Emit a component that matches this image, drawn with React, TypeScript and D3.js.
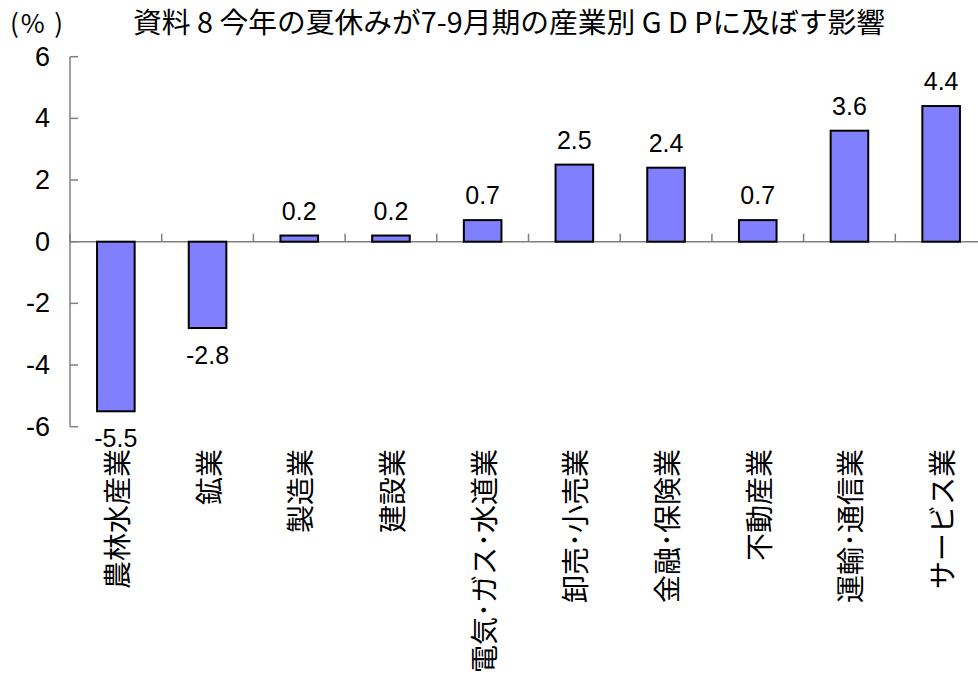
import React from 'react';
import { scaleBand, scaleLinear } from 'd3';

const svgWidth = 978;
const svgHeight = 674;

const categories = [
  '農林水産業',
  '鉱業',
  '製造業',
  '建設業',
  '電気･ガス･水道業',
  '卸売･小売業',
  '金融･保険業',
  '不動産業',
  '運輸･通信業',
  'サービス業',
];
const values = [-5.5, -2.8, 0.2, 0.2, 0.7, 2.5, 2.4, 0.7, 3.6, 4.4];
const yTicks = [-6, -4, -2, 0, 2, 4, 6];

const titleText = '資料 8  今年の夏休みが7-9月期の産業別 G D Pに及ぼす影響';
const unitText = '(% )';

const plotLeft = 70;
const plotRight = 987;
const plotTop = 56.7;
const plotBottom = 426.7;

const numFont = '"Liberation Sans", Arial, sans-serif';
const cjkFont = '"Noto Sans CJK JP", sans-serif';
const axisColor = '#808080';

export default function App() {
  const x = scaleBand().domain(categories).range([plotLeft, plotRight]).padding(0);
  const y = scaleLinear().domain([-6, 6]).range([plotBottom, plotTop]);
  const barWidth = x.bandwidth() * 0.41;
  const zeroY = y(0);

  return (
    <svg
      width={svgWidth}
      height={svgHeight}
      style={{ position: 'absolute', left: 0, top: 0, background: '#fff' }}
    >
      {/* title + unit */}
      <text x={10} y={33} fontFamily={cjkFont} fontSize={26} fill="#000" textLength={53} lengthAdjust="spacing">
        {unitText}
      </text>
      <text
        x={133}
        y={33}
        fontFamily={cjkFont}
        fontSize={28}
        fill="#000"
        textLength={752}
        lengthAdjust="spacingAndGlyphs"
      >
        {titleText}
      </text>

      {/* y axis */}
      <line x1={plotLeft} x2={plotLeft} y1={plotTop} y2={plotBottom} stroke={axisColor} strokeWidth={1.5} />
      {yTicks.map((t) => (
        <g key={t}>
          <line x1={plotLeft} x2={plotLeft + 8} y1={y(t)} y2={y(t)} stroke={axisColor} strokeWidth={1.5} />
          <text
            x={50}
            y={y(t)}
            textAnchor="end"
            dominantBaseline="central"
            fontFamily={numFont}
            fontSize={27}
            fill="#000"
          >
            {t}
          </text>
        </g>
      ))}

      {/* zero line with category ticks */}
      <line x1={plotLeft} x2={svgWidth} y1={zeroY} y2={zeroY} stroke={axisColor} strokeWidth={1.5} />
      {categories.map((c) => (
        <line
          key={'tick' + c}
          x1={x(c)}
          x2={x(c)}
          y1={zeroY}
          y2={zeroY - 8}
          stroke={axisColor}
          strokeWidth={1.5}
        />
      ))}

      {/* bars */}
      {categories.map((c, i) => {
        const v = values[i];
        const cx = x(c) + x.bandwidth() / 2;
        const top = Math.min(y(v), zeroY);
        const h = Math.abs(y(v) - zeroY);
        return (
          <g key={c}>
            <rect
              x={cx - barWidth / 2}
              y={top}
              width={barWidth}
              height={h}
              fill="#8080FF"
              stroke="#000"
              strokeWidth={2}
            />
            <text
              x={cx}
              y={v >= 0 ? y(v) - 16 : y(v) + 36}
              textAnchor="middle"
              fontFamily={numFont}
              fontSize={25}
              fill="#000"
            >
              {v.toFixed(1)}
            </text>
            <text
              transform={`translate(${cx}, 449) rotate(-90)`}
              textAnchor="end"
              dominantBaseline="central"
              fontFamily={cjkFont}
              fontSize={28}
              fill="#000"
            >
              {c}
            </text>
          </g>
        );
      })}
    </svg>
  );
}
